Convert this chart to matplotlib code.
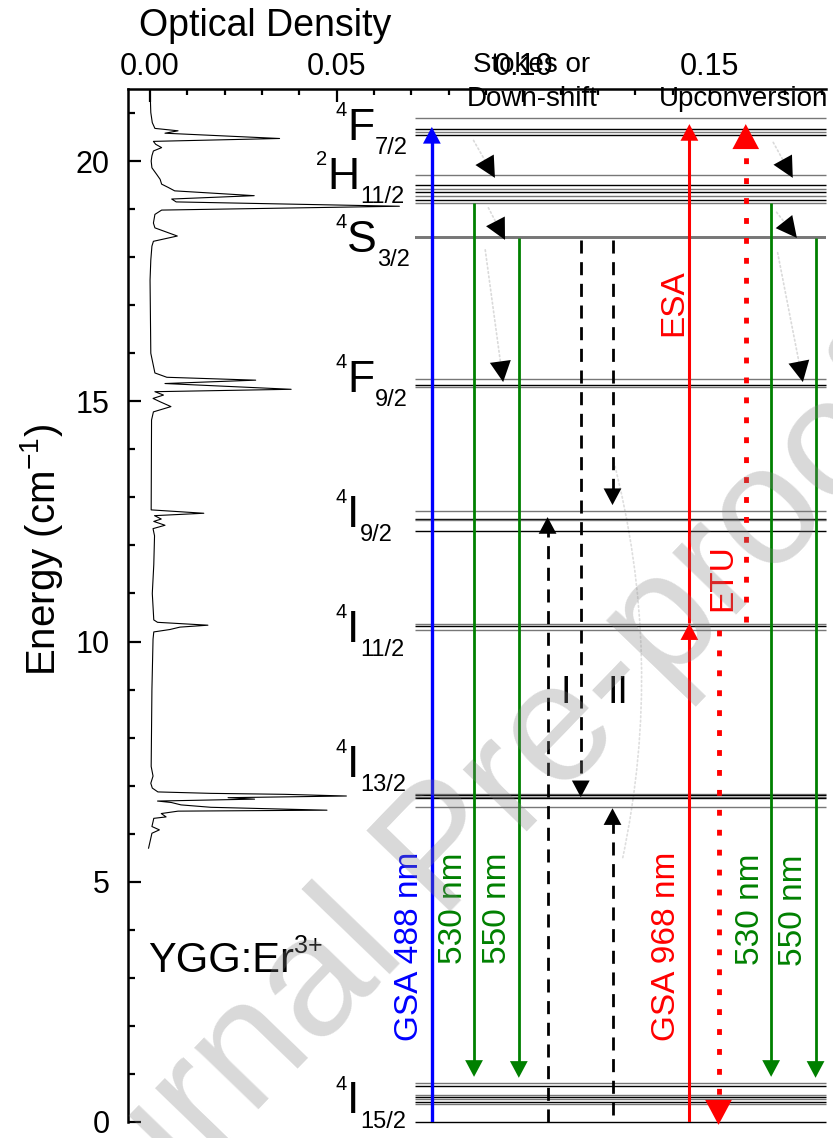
import matplotlib
matplotlib.use('Agg')
import matplotlib.pyplot as plt
from matplotlib.patches import FancyArrowPatch
import numpy as np

plt.rcParams['font.family'] = ['Liberation Sans', 'DejaVu Sans']
plt.rcParams['mathtext.fontset'] = 'custom'
plt.rcParams['mathtext.rm'] = 'Liberation Sans'
plt.rcParams['mathtext.it'] = 'Liberation Sans:italic'

# absorption spectrum (energy in 10^3 cm^-1, optical density)
spec_energy = [21.48, 21.01, 20.80, 20.68, 20.63, 20.58, 20.47, 20.41, 20.35, 20.28,
               20.21, 20.11, 20.00, 19.86, 19.72, 19.62, 19.52, 19.45, 19.38, 19.28,
               19.21, 19.15, 19.06, 18.98, 18.89, 18.71, 18.61, 18.44, 18.33, 18.23,
               17.94, 17.52, 16.00, 15.59, 15.50, 15.44, 15.37, 15.25, 15.20, 15.13,
               15.06, 14.99, 14.89, 14.78, 14.61, 12.74, 12.67, 12.62, 12.55, 12.50,
               12.42, 12.35, 12.20, 11.60, 11.00, 10.45, 10.40, 10.34, 10.30, 10.25,
               10.20, 10.05, 9.00, 7.40, 7.20, 7.05, 6.95, 6.87, 6.84, 6.82,
               6.785, 6.75, 6.72, 6.68, 6.65, 6.60, 6.55, 6.49, 6.47, 6.42,
               6.35, 6.32, 6.25, 6.15, 6.08, 6.01, 5.94, 5.70]
spec_od = [0.0000, 0.0002, 0.0006, 0.0013, 0.0075, 0.0040, 0.0347, 0.0009, 0.0015, 0.0031,
           0.0009, 0.0005, 0.0003, 0.0005, 0.0018, 0.0027, 0.0031, 0.0049, 0.0066, 0.0279,
           0.0058, 0.0070, 0.0668, 0.0031, 0.0013, 0.0009, 0.0013, 0.0073, 0.0009, 0.0005,
           0.0002, 0.0000, 0.0002, 0.0013, 0.0045, 0.0283, 0.0040, 0.0378, 0.0013, 0.0036,
           0.0008, 0.0027, 0.0056, 0.0009, 0.0004, 0.0003, 0.0144, 0.0012, 0.0030, 0.0010,
           0.0040, 0.0008, 0.0012, 0.0010, 0.0006, 0.0010, 0.0020, 0.0155, 0.0080, 0.0053,
           0.0010, 0.0008, 0.0005, 0.0003, 0.0008, 0.0002, 0.0006, 0.0021, 0.0163, 0.0360,
           0.0526, 0.0209, 0.0280, 0.0020, 0.0057, 0.0083, 0.0163, 0.0474, 0.0075, 0.0030,
           0.0043, 0.0010, 0.0008, 0.0005, 0.0025, 0.0005, 0.0003, -0.0004]

# Stark levels of each multiplet (10^3 cm^-1)
lev_F72 = [20.89, 20.67, 20.60, 20.54]
lev_H112 = [19.70, 19.50, 19.42, 19.36, 19.27, 19.18, 19.12]
lev_S32 = [18.41, 18.39]
lev_F92 = [15.46, 15.33, 15.30]
lev_I92 = [12.72, 12.55, 12.53, 12.30]
lev_I112 = [10.36, 10.32, 10.24]
lev_I132 = [6.83, 6.80, 6.77, 6.74, 6.56]
lev_I152 = [0.81, 0.75, 0.56, 0.51, 0.47, 0.42, 0.38, 0.0]

# term symbols and label energies
term_mult = ['4', '2', '4', '4', '4', '4', '4', '4']
term_letter = ['F', 'H', 'S', 'F', 'I', 'I', 'I', 'I']
term_j = ['7/2', '11/2', '3/2', '9/2', '9/2', '11/2', '13/2', '15/2']
term_energy = [20.44, 19.42, 18.11, 15.20, 12.39, 10.00, 7.19, 0.18]

# transitions (start, end) in 10^3 cm^-1
gsa488 = (0.0, 20.71)
em530 = (19.13, 0.94)
em550 = (18.40, 0.92)
gsa968 = (0.0, 10.38)
esa = (10.38, 20.77)
etu_up = (10.40, 20.77)
etu_down = (10.25, -0.06)
cr_down = [(18.36, 6.76), (18.36, 12.84)]
cr_up = [(0.0, 12.59), (0.15, 6.53)]

fig = plt.figure(figsize=(8.33, 11.38), dpi=100)
ax = fig.add_axes([0.1537, 0.01406, 0.8379, 0.90773])
ax.set_xlim(-0.0059, 0.1811)
ax.set_ylim(0, 21.5)

# spectrum
ax.plot(spec_od, spec_energy, color='black', lw=0.8)

# energy levels
x_lev0, x_lev1 = 0.071, 0.1811
groups = [lev_F72, lev_H112, lev_S32, lev_F92, lev_I92, lev_I112, lev_I132, lev_I152]
for g in groups:
    for i, e in enumerate(g):
        if g is lev_S32:
            col, w = '#777777', 1.4
        else:
            col, w = ('black' if i % 2 == 1 or len(g) < 3 else '#777777'), 1.0
        ax.hlines(e, x_lev0, x_lev1, color=col, lw=w, clip_on=False)

# term labels
for m, letter, j, e in zip(term_mult, term_letter, term_j, term_energy):
    x0 = 0.0474 if letter == 'H' else 0.0528
    t = ax.text(x0, e, letter, fontsize=32, ha='left', va='baseline')
    ax.annotate(m, xy=(0, 0), xycoords=t, xytext=(0, 23.5), textcoords='offset points',
                ha='right', va='baseline', fontsize=14.5)
    ax.annotate(j, xy=(1, 0), xycoords=t, xytext=(0.5, -4.0), textcoords='offset points',
                ha='left', va='baseline', fontsize=17)


def head(x, tip, up, color, ms, hl=0.6, hw=0.32, d=0.6):
    tail = tip - d if up else tip + d
    ax.annotate('', xy=(x, tip), xytext=(x, tail),
                arrowprops=dict(arrowstyle=f'-|>,head_length={hl},head_width={hw}',
                                color=color, lw=0, shrinkA=0, shrinkB=0, mutation_scale=ms),
                annotation_clip=False)


def solid(x, e0, e1, color, lw):
    ax.plot([x, x], [e0, e1 - np.sign(e1 - e0) * 0.25], color=color, lw=lw, solid_capstyle='butt')
    head(x, e1, e1 > e0, color, 20)


def broken(x, e0, e1, color, lw, dash, ms):
    ax.plot([x, x], [e0, e1 - np.sign(e1 - e0) * 0.3], color=color, lw=lw,
            linestyle=(0, dash), clip_on=False)
    head(x, e1, e1 > e0, color, ms)


solid(0.0755, *gsa488, 'blue', 2.4)
solid(0.0868, *em530, 'green', 2.0)
solid(0.0988, *em550, 'green', 2.0)
solid(0.1664, *em530, 'green', 2.0)
solid(0.1783, *em550, 'green', 2.0)
solid(0.1445, *gsa968, 'red', 2.2)
solid(0.1445, *esa, 'red', 2.2)

broken(0.1596, *etu_up, 'red', 3.5, (1.2, 2.9), 30)
broken(0.1523, *etu_down, 'red', 3.5, (1.2, 2.9), 30)
broken(0.1154, *cr_down[0], 'black', 2.0, (4.7, 3.1), 20)
broken(0.1239, *cr_down[1], 'black', 2.0, (4.7, 3.1), 20)
broken(0.1065, *cr_up[0], 'black', 2.0, (4.7, 3.1), 20)
broken(0.1239, *cr_up[1], 'black', 2.0, (4.7, 3.1), 20)

# non-radiative relaxation paths (faint dotted with black heads)
decays = [(0.0863, 20.48, 0.0924, 19.65), (0.0903, 19.08, 0.0951, 18.36),
          (0.0897, 18.21, 0.0946, 15.40), (0.1666, 20.44, 0.1722, 19.65),
          (0.1674, 18.98, 0.1733, 18.40), (0.1680, 18.15, 0.1749, 15.40)]
fig.canvas.draw()
for x0, e0, x1, e1 in decays:
    ax.add_patch(FancyArrowPatch((x0, e0), (x1, e1), arrowstyle='-', color='#dadada',
                                 lw=1.2, linestyle=':'))
    p0 = ax.transData.transform((x0, e0))
    p1 = ax.transData.transform((x1, e1))
    v = (p1 - p0) / np.hypot(*(p1 - p0))
    ax.annotate('', xy=(x1, e1), xytext=(-v[0] * 14, -v[1] * 14), textcoords='offset points',
                arrowprops=dict(arrowstyle='-|>,head_length=0.75,head_width=0.38', color='black',
                                lw=0, shrinkA=0, shrinkB=0, mutation_scale=20))
ax.add_patch(FancyArrowPatch((0.1238, 13.88), (0.1264, 5.41), arrowstyle='-', color='#dedede',
                             lw=1.2, linestyle=':', connectionstyle='arc3,rad=-0.12'))

# texts
rot = dict(rotation=90, ha='center', va='center', fontsize=24)
ax.text(0.0696, 3.66, 'GSA 488 nm', color='blue', **rot)
ax.text(0.0814, 4.45, '530 nm', color='green', **rot)
ax.text(0.0931, 4.45, '550 nm', color='green', **rot)
ax.text(0.1384, 3.65, 'GSA 968 nm', color='red', **rot)
ax.text(0.1609, 4.43, '530 nm', color='green', **rot)
ax.text(0.1725, 4.41, '550 nm', color='green', **rot)
ax.text(0.1402, 17.06, 'ESA', color='red', **rot)
ax.text(0.1534, 11.32, 'ETU', color='red', **rot)
ax.text(0.1113, 8.93, 'I', ha='center', va='center', fontsize=27)
ax.text(0.1254, 8.93, 'II', ha='center', va='center', fontsize=27)
ax.text(0.1023, 21.86, 'Stokes or', ha='center', va='baseline', fontsize=20)
ax.text(0.1023, 21.14, 'Down-shift', ha='center', va='baseline', fontsize=20)
ax.text(0.1591, 21.14, 'Upconversion', ha='center', va='baseline', fontsize=20)
t = ax.text(-0.0005, 3.12, 'YGG:Er', ha='left', va='baseline', fontsize=30)
ax.annotate('3+', xy=(1, 0), xycoords=t, xytext=(0, 20.5), textcoords='offset points',
            ha='left', va='baseline', fontsize=18)

# axes styling
for s in ['bottom', 'right']:
    ax.spines[s].set_visible(False)
for s in ['top', 'left']:
    ax.spines[s].set_linewidth(1.8)
ax.xaxis.set_ticks_position('top')
ax.xaxis.set_label_position('top')
ax.set_xticks([0.0, 0.05, 0.10, 0.15])
ax.set_xticklabels(['0.00', '0.05', '0.10', '0.15'])
ax.set_xticks(np.arange(0, 0.181, 0.01), minor=True)
ax.set_yticks([0, 5, 10, 15, 20])
ax.set_yticks(range(0, 22), minor=True)
ax.tick_params(which='both', direction='in', width=1.6, labelsize=22)
ax.tick_params(axis='x', which='major', length=9, pad=5)
ax.tick_params(axis='x', which='minor', length=4.5)
ax.tick_params(axis='y', which='major', length=9, pad=13)
ax.tick_params(axis='y', which='minor', length=5)
ax.set_xlabel('Optical Density', fontsize=27)
ax.xaxis.set_label_coords(0.196, 1.051)
ax.set_ylabel(r'Energy (cm$^{\mathregular{-1}}$)', fontsize=29)
ax.yaxis.set_label_coords(-0.091, 0.554)

# watermark
fig.text(0.535, 0.25, 'Journal Pre-proof', rotation=46, fontsize=122, color='gray',
         alpha=0.3, ha='center', va='center', rotation_mode='anchor', zorder=100)

fig.savefig('out.png', dpi=100)
